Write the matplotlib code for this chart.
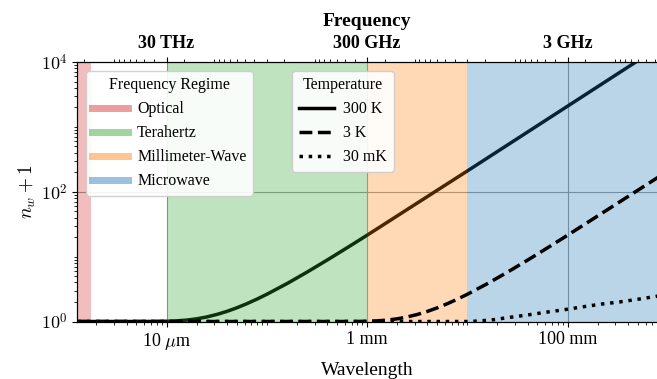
import matplotlib
matplotlib.use('Agg')
import matplotlib.pyplot as plt
from matplotlib.lines import Line2D
from matplotlib.ticker import LogLocator, NullFormatter, FixedLocator
import numpy as np

plt.rcParams['font.family'] = ['Liberation Serif', 'DejaVu Serif']
plt.rcParams['mathtext.fontset'] = 'cm'

# wavelength [m] and occupation n_w + 1
lam_300K = [1.3e-6, 5e-6, 8e-6, 1e-5, 1.25e-5, 1.6e-5, 2e-5, 2.5e-5, 3.2e-5, 4e-5,
            5e-5, 6.3e-5, 8e-5, 1e-4, 1.6e-4, 2.5e-4, 4e-4, 6.3e-4, 1e-3, 1e-2, 1e-1, 0.8]
n_300K = [1.0, 1.0001, 1.0025, 1.0083, 1.022, 1.0525, 1.100, 1.172, 1.288, 1.432,
          1.621, 1.877, 2.218, 2.625, 3.861, 5.727, 8.85, 13.64, 21.36, 209.0, 2085.6, 16681.0]

lam_3K = [1.3e-6, 5e-4, 8e-4, 1e-3, 1.25e-3, 1.6e-3, 2e-3, 2.5e-3, 3.2e-3, 4e-3,
          5e-3, 6.3e-3, 8e-3, 1e-2, 1.6e-2, 2.5e-2, 4e-2, 6.3e-2, 0.1, 0.8]
n_3K = [1.0, 1.0001, 1.0025, 1.0083, 1.022, 1.0525, 1.100, 1.172, 1.288, 1.432,
        1.621, 1.877, 2.218, 2.625, 3.861, 5.727, 8.85, 13.64, 21.36, 167.3]

lam_30mK = [1.3e-6, 1.07e-2, 1.7e-2, 2.56e-2, 3.98e-2, 6.1e-2, 9.3e-2, 0.144, 0.22, 0.33, 0.50, 0.74, 0.8]
n_30mK = [1.0, 1.0, 1.05, 1.15, 1.26, 1.39, 1.52, 1.69, 1.86, 2.0, 2.2, 2.42, 2.47]

# frequency regimes (wavelength bounds in m)
regimes = ['Optical', 'Terahertz', 'Millimeter-Wave', 'Microwave']
regime_lo = [4e-7, 1e-5, 1e-3, 1e-2]
regime_hi = [1.75e-6, 1e-3, 1e-2, 2.0]
regime_colors = ['tab:red', 'tab:green', 'tab:orange', 'tab:blue']

temps = ['300 K', '3 K', '30 mK']
styles = ['-', '--', ':']

x_ticks = [1e-5, 1e-3, 1e-1]
x_ticklabels = [r'10 $\mu$m', '1 mm', '100 mm']
f_ticks = [3e13, 3e11, 3e9]
f_ticklabels = ['30 THz', '300 GHz', '3 GHz']

c = 3e8
xmin, xmax = 1.28e-6, 0.78

fig = plt.figure(figsize=(6.57, 3.79), dpi=100)
ax = fig.add_axes([0.1172, 0.1517, 0.8828, 0.6847])

ax.plot(lam_300K, n_300K, color='k', ls=styles[0], lw=2.5, zorder=1.5)
ax.plot(lam_3K, n_3K, color='k', ls=styles[1], lw=2.5, zorder=3)
ax.plot(lam_30mK, n_30mK, color='k', ls=styles[2], lw=2.5, zorder=3)

for lo, hi, col in zip(regime_lo, regime_hi, regime_colors):
    ax.axvspan(lo, hi, color=col, alpha=0.3, lw=0, zorder=2)

ax.set_xscale('log')
ax.set_yscale('log')
ax.set_xlim(xmin, xmax)
ax.set_ylim(1, 1e4)

ax.xaxis.set_major_locator(FixedLocator(x_ticks))
ax.set_xticklabels(x_ticklabels, fontsize=13)
ax.xaxis.set_minor_locator(LogLocator(base=10, subs=np.arange(1, 10), numticks=30))
ax.xaxis.set_minor_formatter(NullFormatter())
ax.yaxis.set_major_locator(FixedLocator([1, 1e2, 1e4]))
ax.set_yticklabels([r'$10^0$', r'$10^2$', r'$10^4$'], fontsize=13)
ax.yaxis.set_minor_locator(LogLocator(base=10, subs=np.arange(1, 10), numticks=30))
ax.yaxis.set_minor_formatter(NullFormatter())

ax.grid(True, which='major', color='#999999', lw=0.8)
ax.set_axisbelow(True)
ax.spines['right'].set_visible(False)

ax.set_xlabel('Wavelength', fontsize=14, labelpad=7)
ax.set_ylabel(r'$n_w + 1$', fontsize=14, labelpad=2)

# frequency axis on top
ax2 = ax.twiny()
ax2.set_xscale('log')
ax2.set_xlim(c / xmin, c / xmax)
ax2.xaxis.set_major_locator(FixedLocator(f_ticks))
ax2.set_xticklabels(f_ticklabels, fontsize=13, fontweight='bold')
ax2.xaxis.set_minor_locator(LogLocator(base=10, subs=np.arange(1, 10), numticks=30))
ax2.xaxis.set_minor_formatter(NullFormatter())
ax2.set_xlabel('Frequency', fontsize=14, fontweight='bold', labelpad=7)
ax2.spines['right'].set_visible(False)

h1 = [Line2D([], [], color=col, lw=5, alpha=0.45) for col in regime_colors]
leg1 = ax.legend(h1, regimes, title='Frequency Regime', loc='upper left',
                 bbox_to_anchor=(0.0155, 0.966), borderaxespad=0, fontsize=11.5,
                 title_fontsize=11.5, handlelength=2.2, labelspacing=0.5,
                 handletextpad=0.6, framealpha=0.9)
leg1.set_zorder(5)
ax.add_artist(leg1)

h2 = [Line2D([], [], color='k', lw=2.5, ls=s) for s in styles]
leg2 = ax.legend(h2, temps, title='Temperature', loc='upper left',
                 bbox_to_anchor=(0.371, 0.966), borderaxespad=0, fontsize=11.5,
                 title_fontsize=11.5, handlelength=2.2, labelspacing=0.5,
                 handletextpad=0.6, framealpha=0.9)
leg2.set_zorder(5)

fig.savefig('out.png', dpi=100)
